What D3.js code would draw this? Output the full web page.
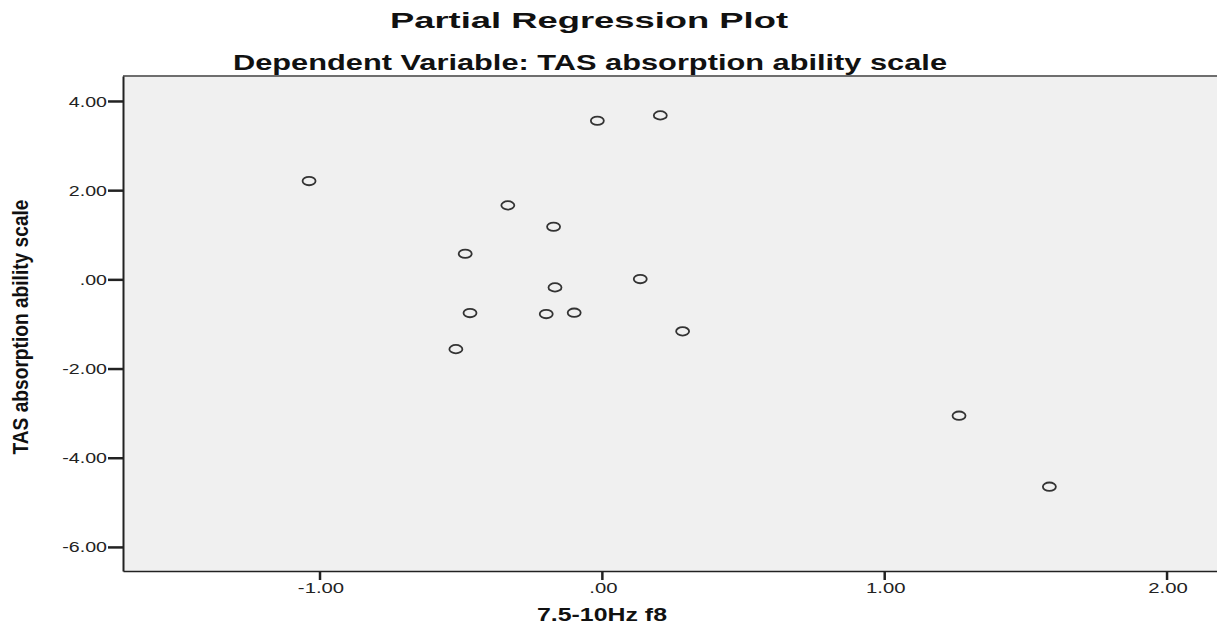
<!DOCTYPE html>
<html>
<head>
<meta charset="utf-8">
<script src="https://cdn.jsdelivr.net/npm/d3@7"></script>
<style>
body { margin: 0; background: #fff; }
svg { display: block; }
text { font-family: "Liberation Sans", Arial, sans-serif; fill: #111; }
</style>
</head>
<body>
<svg id="chart"></svg>
<script>
// partial residuals
var xVals = [-0.016, 0.207, -1.037, -0.333, -0.171, -0.484, 0.136, -0.166, -0.467, -0.197, -0.098, 0.286, -0.517, 1.265, 1.585]
var yVals = [3.556, 3.677, 2.204, 1.659, 1.180, 0.574, 0.007, -0.180, -0.756, -0.778, -0.748, -1.166, -1.565, -3.058, -4.650]
var xTicks = [-1, 0, 1, 2]
var yTicks = [4, 2, 0, -2, -4, -6]

var screen = {width:1217, height:633}
var margins = {top:76, right:-8, bottom:62, left:123}

var svg = d3.select("#chart")
    .attr("width", screen.width)
    .attr("height", screen.height)

var width = screen.width - margins.left - margins.right
var height = screen.height - margins.top - margins.bottom

var xScale = d3.scaleLinear()
    .domain([-1.696, 2.207])
    .range([0, width])
var yScale = d3.scaleLinear()
    .domain([-6.54, 4.56])
    .range([height, 0])

// SPSS style: ".00", "-2.00", plain hyphen
var fmt0 = function(d){
    var s = Math.abs(d).toFixed(2)
    if (s.charAt(0) === "0") s = s.slice(1)
    return (d < 0 ? "-" : "") + s
}

// stretch text horizontally like the original export
var widen = function(sel, factor){
    sel.each(function(){
        var w = this.getComputedTextLength()
        d3.select(this).attr("textLength", w*factor).attr("lengthAdjust", "spacingAndGlyphs")
    })
}

var graph = svg.append("g")
    .attr("id","graph")
    .attr("transform","translate("+margins.left+","+margins.top+")")

graph.append("rect")
    .attr("width", width)
    .attr("height", height)
    .attr("fill", "#f0f0f0")

// top border
graph.append("line")
    .attr("x1", 0).attr("x2", width)
    .attr("y1", 0).attr("y2", 0)
    .attr("stroke", "#6e6e6e")
    .attr("stroke-width", 2)

var xAxis = d3.axisBottom(xScale).tickValues(xTicks).tickFormat(fmt0).tickSize(9).tickSizeOuter(0)
var yAxis = d3.axisLeft(yScale).tickValues(yTicks).tickFormat(fmt0).tickSize(15).tickSizeOuter(0)

var gx = graph.append("g")
    .attr("transform","translate(0,"+height+")")
    .call(xAxis)
gx.select(".domain").attr("stroke","#222").attr("stroke-width",1.6)
gx.selectAll(".tick line").attr("stroke","#222").attr("stroke-width",2.5)
gx.selectAll(".tick text")
    .attr("y", 22)
    .attr("dy", 0)
    .attr("x", 1)
    .style("font-size","14px")
    .style("fill","#222")
widen(gx.selectAll(".tick text"), 1.45)

var gy = graph.append("g").call(yAxis)
gy.select(".domain").attr("stroke","#222").attr("stroke-width",2)
gy.selectAll(".tick line").attr("stroke","#222").attr("stroke-width",2.5)
gy.selectAll(".tick text")
    .attr("x", -16)
    .attr("dy", "0.36em")
    .style("font-size","14px")
    .style("fill","#222")
widen(gy.selectAll(".tick text"), 1.4)

// points
var pts = d3.zip(xVals, yVals)
graph.selectAll("ellipse")
    .data(pts)
    .enter()
    .append("ellipse")
    .attr("cx", function(d){return xScale(d[0])})
    .attr("cy", function(d){return yScale(d[1])})
    .attr("rx", 6.5)
    .attr("ry", 4.2)
    .attr("fill", "none")
    .attr("stroke", "#333")
    .attr("stroke-width", 1.8)

// titles
svg.append("text")
    .attr("x", 589).attr("y", 28)
    .attr("text-anchor","middle")
    .style("font-size","22px").style("font-weight","bold")
    .attr("textLength", 398).attr("lengthAdjust","spacingAndGlyphs")
    .text("Partial Regression Plot")

svg.append("text")
    .attr("x", 590).attr("y", 70)
    .attr("text-anchor","middle")
    .style("font-size","22px").style("font-weight","bold")
    .attr("textLength", 714).attr("lengthAdjust","spacingAndGlyphs")
    .text("Dependent Variable: TAS absorption ability scale")

svg.append("text")
    .attr("x", 602).attr("y", 621)
    .attr("text-anchor","middle")
    .style("font-size","18px").style("font-weight","bold")
    .attr("textLength", 130).attr("lengthAdjust","spacingAndGlyphs")
    .text("7.5-10Hz f8")

svg.append("text")
    .attr("transform","translate(28,327) rotate(-90)")
    .attr("text-anchor","middle")
    .style("font-size","22px").style("font-weight","bold")
    .attr("textLength", 255).attr("lengthAdjust","spacingAndGlyphs")
    .text("TAS absorption ability scale")
</script>
</body>
</html>
